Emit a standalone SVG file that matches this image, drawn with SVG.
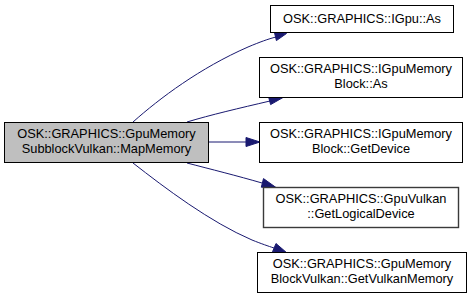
<svg xmlns="http://www.w3.org/2000/svg" width="473" height="299" viewBox="0 0 473 299">
<style>
  .node rect { fill: #ffffff; stroke: #000000; stroke-width: 1; }
  .node.cur rect { fill: #bfbfbf; }
  .node.grey rect { stroke: #3a3a3a; stroke-width: 1.4; }
  text { font-family: "Liberation Sans", Arial, sans-serif; font-size: 12.8px; fill: #000000; text-anchor: middle; }
  .edge path { fill: none; stroke: #191970; stroke-width: 1; }
  .edge polygon { fill: #191970; stroke: #191970; stroke-width: 1; }
</style>
<rect width="473" height="299" fill="#ffffff"/>
<g id="edges" class="edge">
  <path d="M133,122 C160,98 200,68 248,47 C260,42 268,39 276,37"/>
  <polygon points="274.3,31.8 286.5,33.5 276.4,40.6"/>
  <path d="M187,122 C210,115 240,108 270,101"/>
  <polygon points="268.4,96.2 283,97.5 270.6,104.6"/>
  <path d="M209,142 L246,142"/>
  <polygon points="246,137.5 260,142 246,146.5"/>
  <path d="M187,163 C210,169 238,176 262,183"/>
  <polygon points="263.5,178.6 276,187.5 261.3,187.2"/>
  <path d="M133,163 C165,188 210,222 252,240 C262,244 268,246 274,248"/>
  <polygon points="276,243.5 287,253 272.5,251.8"/>
</g>
<g id="node_MapMemory" class="node cur">
  <rect x="4.5" y="122.5" width="204" height="40"/>
  <text x="106.5" y="138">OSK::GRAPHICS::GpuMemory</text>
  <text x="106.5" y="153">SubblockVulkan::MapMemory</text>
</g>
<g id="node_IGpu_As" class="node">
  <rect x="270.5" y="5.5" width="183" height="27"/>
  <text x="362" y="23">OSK::GRAPHICS::IGpu::As</text>
</g>
<g id="node_IGpuMemoryBlock_As" class="node">
  <rect x="259.5" y="57.5" width="203" height="40"/>
  <text x="361" y="73">OSK::GRAPHICS::IGpuMemory</text>
  <text x="361" y="88">Block::As</text>
</g>
<g id="node_IGpuMemoryBlock_GetDevice" class="node">
  <rect x="259.5" y="122.5" width="203" height="40"/>
  <text x="361" y="138">OSK::GRAPHICS::IGpuMemory</text>
  <text x="361" y="153">Block::GetDevice</text>
</g>
<g id="node_GpuVulkan_GetLogicalDevice" class="node grey">
  <rect x="263.5" y="187.5" width="195" height="40"/>
  <text x="361" y="203">OSK::GRAPHICS::GpuVulkan</text>
  <text x="361" y="218">::GetLogicalDevice</text>
</g>
<g id="node_GpuMemoryBlockVulkan_GetVulkanMemory" class="node">
  <rect x="257.5" y="252.5" width="209" height="40"/>
  <text x="362" y="268">OSK::GRAPHICS::GpuMemory</text>
  <text x="362" y="283">BlockVulkan::GetVulkanMemory</text>
</g>
</svg>
